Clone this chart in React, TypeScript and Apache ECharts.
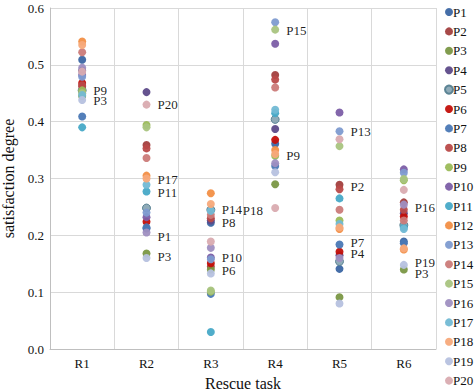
import React, { useEffect, useRef } from "react";
import * as echarts from "echarts";

const categories = ["R1", "R2", "R3", "R4", "R5", "R6"];
const yTicks = [0, 0.1, 0.2, 0.3, 0.4, 0.5, 0.6];

const P1 = [0.509, 0.212, 0.222, 0.361, 0.141, 0.189];
const P2 = [0.462, 0.359, 0.145, 0.482, 0.289, 0.258];
const P3 = [0.445, 0.168, 0.14, 0.29, 0.091, 0.14];
const P4 = [0.49, 0.452, 0.226, 0.387, 0.165, 0.239];
const P5 = [0.455, 0.248, 0.245, 0.404, 0.154, 0.218];
const P6 = [0.468, 0.224, 0.151, 0.368, 0.171, 0.233];
const P7 = [0.409, 0.214, 0.097, 0.322, 0.184, 0.186];
const P8 = [0.464, 0.353, 0.23, 0.474, 0.281, 0.245];
const P9 = [0.455, 0.394, 0.101, 0.34, 0.226, 0.297];
const P10 = [0.482, 0.232, 0.161, 0.537, 0.416, 0.316];
const P11 = [0.39, 0.277, 0.03, 0.415, 0.265, 0.214];
const P12 = [0.541, 0.305, 0.274, 0.35, 0.211, 0.175];
const P13 = [0.479, 0.24, 0.158, 0.575, 0.383, 0.31];
const P14 = [0.522, 0.336, 0.236, 0.46, 0.245, 0.226];
const P15 = [0.45, 0.39, 0.103, 0.562, 0.357, 0.299];
const P16 = [0.495, 0.205, 0.178, 0.327, 0.16, 0.254];
const P17 = [0.447, 0.289, 0.243, 0.421, 0.22, 0.211];
const P18 = [0.535, 0.3, 0.255, 0.343, 0.214, 0.177];
const P19 = [0.438, 0.16, 0.133, 0.311, 0.08, 0.148];
const P20 = [0.488, 0.43, 0.189, 0.248, 0.369, 0.28];

const seriesNames = ["P1","P2","P3","P4","P5","P6","P7","P8","P9","P10","P11","P12","P13","P14","P15","P16","P17","P18","P19","P20"];
const seriesValues = [P1,P2,P3,P4,P5,P6,P7,P8,P9,P10,P11,P12,P13,P14,P15,P16,P17,P18,P19,P20];

const colors = [
  "#3b66a3", "#a23f3e", "#7a9744", "#5d4a89", "#8aa6b4", "#c30f0a", "#4a78b5", "#b94a49",
  "#9bbb59", "#7c5ea6", "#47a9c7", "#f28f46", "#7e9bd0", "#cb7b79", "#a9c47f", "#9f8fc1",
  "#72b9d4", "#f7a97a", "#b6c1df", "#d9abb0",
];

// labelled points: [series, category index, dx, dy]
const labelled: [string, number, number, number][] = [
  ["P9", 0, 0, 0], ["P3", 0, 0, 4],
  ["P20", 1, 0, 0], ["P17", 1, 0, -5], ["P11", 1, 0, 1], ["P1", 1, 0, 8], ["P3", 1, 0, 3],
  ["P14", 2, 0, -5], ["P18", 2, 21, 6], ["P8", 2, 0, 4], ["P10", 2, 0, 0], ["P6", 2, 0, 7],
  ["P15", 3, 0, 1], ["P9", 3, 0, 0],
  ["P13", 4, 0, 0], ["P2", 4, 0, 2], ["P7", 4, 0, -2], ["P4", 4, 0, -2],
  ["P16", 5, 0, 3], ["P19", 5, 0, -2], ["P3", 5, 0, 4],
];

const FONT = "Liberation Serif";

export default function App() {
  const ref = useRef<HTMLDivElement>(null);
  useEffect(() => {
    if (!ref.current) return;
    const chart = echarts.init(ref.current, undefined, { renderer: "svg" });
    const series = seriesNames.map((name, si) => ({
      name,
      type: "scatter",
      symbol: "circle",
      symbolSize: 8,
      itemStyle: {
        color: colors[si],
        opacity: 0.95,
        ...(name === "P5" ? { borderColor: "#557f90", borderWidth: 1 } : {}),
      },
      data: seriesValues[si].map((v, ci) => {
        const l = labelled.find((x) => x[0] === name && x[1] === ci);
        if (!l) return v;
        return {
          value: v,
          label: {
            show: true,
            position: "right",
            distance: 7,
            offset: [l[2], l[3]],
            formatter: name,
            color: "#111",
            fontSize: 13,
            fontFamily: FONT,
          },
        };
      }),
    }));
    chart.setOption({
      animation: false,
      textStyle: { fontFamily: FONT },
      grid: { left: 50, right: 38, top: 8, bottom: 41, containLabel: false, outerBoundsMode: "none" },
      legend: {
        orient: "vertical",
        left: 444,
        top: 5,
        height: 385,
        padding: 0,
        icon: "circle",
        itemWidth: 8,
        itemHeight: 8,
        itemGap: 5.4,
        textStyle: { fontFamily: FONT, fontSize: 13, color: "#111", lineHeight: 14, padding: [0, 0, 0, -5] },
        data: seriesNames,
      },
      xAxis: {
        type: "category",
        data: categories,
        boundaryGap: true,
        name: "Rescue task",
        nameLocation: "middle",
        nameGap: 26,
        nameTextStyle: { fontFamily: FONT, fontSize: 16, color: "#111" },
        axisLine: { lineStyle: { color: "#bfbfbf" } },
        axisTick: { show: false },
        axisLabel: { fontFamily: FONT, fontSize: 13, color: "#111", margin: 8 },
        splitLine: { show: true, lineStyle: { color: "#d9d9d9" } },
      },
      yAxis: {
        type: "value",
        min: yTicks[0],
        max: yTicks[yTicks.length - 1],
        interval: 0.1,
        name: "satisfaction degree",
        nameLocation: "middle",
        nameGap: 30,
        nameTextStyle: { fontFamily: FONT, fontSize: 16, color: "#111" },
        axisLine: { show: true, lineStyle: { color: "#bfbfbf" } },
        axisTick: { show: false },
        axisLabel: { fontFamily: FONT, fontSize: 13, color: "#111", margin: 6, formatter: (v: number) => v.toFixed(1) },
        splitLine: { show: true, lineStyle: { color: "#d9d9d9" } },
      },
      series,
    });
    return () => chart.dispose();
  }, []);
  return <div ref={ref} style={{ width: 474, height: 390, position: "absolute", left: 0, top: 0, background: "#fff" }} />;
}
